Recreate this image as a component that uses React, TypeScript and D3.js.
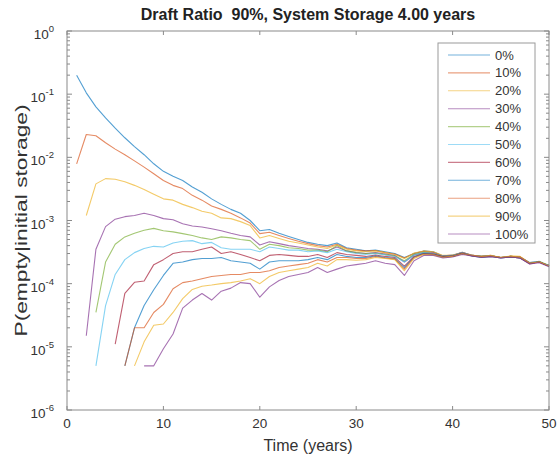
import * as d3 from 'd3';
import { useEffect, useRef } from 'react';

// time axis (years) and legend
const years = d3.range(1, 51);
const labels = ['0%', '10%', '20%', '30%', '40%', '50%', '60%', '70%', '80%', '90%', '100%'];
const xTicks = [0, 10, 20, 30, 40, 50];
const yTicks = [1, 1e-1, 1e-2, 1e-3, 1e-4, 1e-5, 1e-6];
const matlab = ['#0072BD', '#D95319', '#EDB120', '#7E2F8E', '#77AC30', '#4DBEEE', '#A2142F'];

// P(empty | initial storage), one array per initial storage level (null = zero)
const s0 = [0.20, 0.105, 0.063, 0.042, 0.029, 0.0204, 0.0148, 0.011, 0.0079, 0.0060,
  0.0050, 0.0043, 0.0034, 0.0028, 0.0022, 0.0018, 0.0015, 0.0013, 0.0010, 6.9e-4,
  7.2e-4, 6.3e-4, 5.6e-4, 5.0e-4, 4.5e-4, 4.2e-4, 4.0e-4, 4.4e-4, 3.7e-4, 3.5e-4,
  3.3e-4, 3.4e-4, 3.2e-4, 3.0e-4, 2.6e-4, 3.0e-4, 3.3e-4, 3.2e-4, 2.75e-4, 2.8e-4,
  3.15e-4, 2.8e-4, 2.7e-4, 2.75e-4, 2.6e-4, 2.7e-4, 2.65e-4, 2.15e-4, 2.25e-4, 1.9e-4];
const s10 = [0.0079, 0.023, 0.022, 0.017, 0.0135, 0.011, 0.0088, 0.0070, 0.0055, 0.0043,
  0.0036, 0.0032, 0.0025, 0.0021, 0.0017, 0.0015, 0.0013, 0.0011, 9.1e-4, 6.2e-4,
  6.5e-4, 5.8e-4, 5.2e-4, 4.7e-4, 4.3e-4, 4.0e-4, 3.8e-4, 4.2e-4, 3.6e-4, 3.4e-4,
  3.3e-4, 3.35e-4, 3.1e-4, 2.95e-4, 2.55e-4, 3.0e-4, 3.25e-4, 3.15e-4, 2.75e-4, 2.85e-4,
  3.1e-4, 2.85e-4, 2.7e-4, 2.8e-4, 2.6e-4, 2.7e-4, 2.65e-4, 2.15e-4, 2.2e-4, 1.9e-4];
const s20 = [null, 1.2e-3, 3.8e-3, 4.6e-3, 4.5e-3, 4.1e-3, 3.6e-3, 3.1e-3, 2.6e-3, 2.2e-3,
  2.1e-3, 1.8e-3, 1.6e-3, 1.4e-3, 1.3e-3, 1.1e-3, 1.07e-3, 9.6e-4, 8.3e-4, 5.3e-4,
  5.8e-4, 5.2e-4, 4.7e-4, 4.4e-4, 4.1e-4, 3.8e-4, 3.6e-4, 4.1e-4, 3.5e-4, 3.3e-4,
  3.2e-4, 3.3e-4, 3.1e-4, 2.9e-4, 2.5e-4, 3.05e-4, 3.3e-4, 3.2e-4, 2.8e-4, 2.8e-4,
  3.15e-4, 2.8e-4, 2.7e-4, 2.8e-4, 2.6e-4, 2.75e-4, 2.7e-4, 2.1e-4, 2.2e-4, 1.9e-4];
const s30 = [null, 1.5e-5, 3.5e-4, 8.0e-4, 1.05e-3, 1.15e-3, 1.2e-3, 1.3e-3, 1.2e-3, 1.07e-3,
  1.03e-3, 8.9e-4, 8.2e-4, 7.9e-4, 7.4e-4, 6.9e-4, 6.3e-4, 5.8e-4, 5.5e-4, 4.1e-4,
  4.6e-4, 4.3e-4, 4.0e-4, 3.8e-4, 3.6e-4, 3.5e-4, 3.3e-4, 3.8e-4, 3.3e-4, 3.1e-4,
  3.0e-4, 3.1e-4, 2.95e-4, 2.8e-4, 2.2e-4, 2.85e-4, 3.1e-4, 3.05e-4, 2.7e-4, 2.75e-4,
  3.1e-4, 2.8e-4, 2.65e-4, 2.7e-4, 2.55e-4, 2.65e-4, 2.55e-4, 2.05e-4, 2.2e-4, 1.9e-4];
const s40 = [null, null, 3.5e-5, 2.2e-4, 4.2e-4, 5.5e-4, 6.3e-4, 7.0e-4, 7.5e-4, 6.9e-4,
  6.6e-4, 6.2e-4, 5.8e-4, 5.3e-4, 5.0e-4, 5.5e-4, 5.3e-4, 5.0e-4, 4.8e-4, 3.5e-4,
  4.2e-4, 4.0e-4, 3.7e-4, 3.6e-4, 3.4e-4, 3.4e-4, 3.2e-4, 4.0e-4, 3.3e-4, 3.1e-4,
  3.0e-4, 3.05e-4, 2.9e-4, 2.75e-4, 2.3e-4, 2.9e-4, 3.15e-4, 3.0e-4, 2.7e-4, 2.8e-4,
  3.05e-4, 2.8e-4, 2.7e-4, 2.75e-4, 2.6e-4, 2.7e-4, 2.6e-4, 2.1e-4, 2.25e-4, 1.95e-4];
const s50 = [null, null, 5.0e-6, 4.5e-5, 1.4e-4, 2.4e-4, 3.1e-4, 3.6e-4, 3.9e-4, 3.8e-4,
  4.4e-4, 4.7e-4, 4.8e-4, 4.3e-4, 4.5e-4, 3.7e-4, 3.5e-4, 3.5e-4, 3.5e-4, 3.2e-4,
  3.8e-4, 3.6e-4, 3.4e-4, 3.4e-4, 3.2e-4, 3.3e-4, 3.1e-4, 3.5e-4, 3.2e-4, 3.0e-4,
  2.9e-4, 3.0e-4, 2.85e-4, 2.7e-4, 2.2e-4, 2.85e-4, 3.1e-4, 3.0e-4, 2.75e-4, 2.8e-4,
  3.1e-4, 2.8e-4, 2.7e-4, 2.75e-4, 2.6e-4, 2.7e-4, 2.6e-4, 2.15e-4, 2.2e-4, 1.9e-4];
const s60 = [null, null, null, null, 1.1e-5, 7.0e-5, 1.05e-4, 1.1e-4, 2.0e-4, 2.4e-4,
  3.0e-4, 3.2e-4, 3.2e-4, 3.5e-4, 3.8e-4, 3.0e-4, 3.2e-4, 2.9e-4, 2.6e-4, 2.3e-4,
  2.8e-4, 2.9e-4, 2.8e-4, 2.7e-4, 2.7e-4, 2.9e-4, 2.6e-4, 3.1e-4, 2.9e-4, 2.8e-4,
  2.7e-4, 2.85e-4, 2.7e-4, 2.6e-4, 1.9e-4, 2.7e-4, 3.0e-4, 2.95e-4, 2.7e-4, 2.75e-4,
  3.05e-4, 2.75e-4, 2.65e-4, 2.7e-4, 2.6e-4, 2.65e-4, 2.55e-4, 2.1e-4, 2.2e-4, 1.9e-4];
const s70 = [null, null, null, null, null, 5.0e-6, 2.0e-5, 4.5e-5, 8.0e-5, 1.35e-4,
  2.1e-4, 2.2e-4, 2.4e-4, 2.5e-4, 2.5e-4, 2.6e-4, 2.3e-4, 2.2e-4, 2.1e-4, 1.7e-4,
  2.2e-4, 2.3e-4, 2.3e-4, 2.3e-4, 2.4e-4, 2.6e-4, 2.4e-4, 2.9e-4, 2.7e-4, 2.6e-4,
  2.6e-4, 2.75e-4, 2.6e-4, 2.5e-4, 1.8e-4, 2.65e-4, 3.0e-4, 2.9e-4, 2.65e-4, 2.7e-4,
  3.0e-4, 2.75e-4, 2.6e-4, 2.7e-4, 2.55e-4, 2.65e-4, 2.55e-4, 2.1e-4, 2.2e-4, 1.9e-4];
const s80 = [null, null, null, null, null, 5.0e-6, 2.0e-5, 2.0e-5, 3.5e-5, 4.7e-5,
  8.3e-5, 1.04e-4, 1.1e-4, 1.2e-4, 1.3e-4, 1.35e-4, 1.4e-4, 1.4e-4, 1.5e-4, 1.5e-4,
  1.6e-4, 1.8e-4, 1.9e-4, 2.0e-4, 2.1e-4, 2.4e-4, 2.2e-4, 2.6e-4, 2.6e-4, 2.5e-4,
  2.5e-4, 2.7e-4, 2.55e-4, 2.45e-4, 1.7e-4, 2.6e-4, 2.95e-4, 2.9e-4, 2.65e-4, 2.7e-4,
  3.0e-4, 2.8e-4, 2.7e-4, 2.75e-4, 2.6e-4, 2.7e-4, 2.65e-4, 2.1e-4, 2.2e-4, 1.9e-4];
const s90 = [null, null, null, null, null, null, 5.0e-6, 1.2e-5, 2.2e-5, 2.3e-5,
  3.5e-5, 5.8e-5, 8.1e-5, 9.1e-5, 9.5e-5, 1.0e-4, 1.04e-4, 1.1e-4, 1.2e-4, 1.0e-4,
  1.3e-4, 1.5e-4, 1.6e-4, 1.7e-4, 1.8e-4, 2.1e-4, 1.9e-4, 2.4e-4, 2.4e-4, 2.35e-4,
  2.4e-4, 2.6e-4, 2.5e-4, 2.4e-4, 1.6e-4, 2.5e-4, 2.9e-4, 2.85e-4, 2.6e-4, 2.7e-4,
  2.95e-4, 2.8e-4, 2.65e-4, 2.75e-4, 2.6e-4, 2.7e-4, 2.6e-4, 2.1e-4, 2.2e-4, 1.9e-4];
const s100 = [null, null, null, null, null, null, null, 5.0e-6, 5.0e-6, 9.3e-6,
  1.6e-5, 4.1e-5, 5.5e-5, 7.0e-5, 5.5e-5, 7.6e-5, 8.5e-5, 1.04e-4, 1.0e-4, 6.1e-5,
  8.9e-5, 1.12e-4, 1.3e-4, 1.4e-4, 1.5e-4, 1.8e-4, 1.5e-4, 1.7e-4, 1.9e-4, 2.0e-4,
  2.1e-4, 2.3e-4, 2.1e-4, 2.0e-4, 1.35e-4, 2.3e-4, 2.8e-4, 2.8e-4, 2.55e-4, 2.65e-4,
  2.9e-4, 2.75e-4, 2.6e-4, 2.7e-4, 2.55e-4, 2.65e-4, 2.55e-4, 2.05e-4, 2.15e-4, 1.85e-4];

const series = [s0, s10, s20, s30, s40, s50, s60, s70, s80, s90, s100];

export default function App() {
  const svgRef = useRef(null);

  useEffect(() => {
    const svg = d3.select(svgRef.current);
    svg.selectAll('*').remove();

    const left = 67, right = 549, top = 31, bottom = 410;
    const font = 'Arial, "Liberation Sans", Helvetica, sans-serif';
    const axisColor = '#8a8a8a';
    const textColor = '#333';

    const x = d3.scaleLinear().domain([0, 50]).range([left, right]);
    const y = d3.scaleLog().domain([1e-6, 1]).range([bottom, top]);

    svg.append('rect')
      .attr('width', 557).attr('height', 459).attr('fill', '#fff');

    // lines
    const line = d3.line()
      .defined((d) => d[1] != null)
      .x((d) => x(d[0]))
      .y((d) => y(d[1]));

    series.forEach((s, i) => {
      svg.append('path')
        .datum(years.map((yr, j) => [yr, s[j]]))
        .attr('fill', 'none')
        .attr('stroke', matlab[i % matlab.length])
        .attr('stroke-opacity', 0.68)
        .attr('stroke-width', 1.1)
        .attr('stroke-linejoin', 'round')
        .attr('d', line);
    });

    // box
    svg.append('rect')
      .attr('x', left).attr('y', top)
      .attr('width', right - left).attr('height', bottom - top)
      .attr('fill', 'none').attr('stroke', axisColor).attr('stroke-width', 1);

    const g = svg.append('g').attr('stroke', axisColor).attr('stroke-width', 1);

    // x ticks (inward, bottom and top)
    xTicks.forEach((t) => {
      g.append('line').attr('x1', x(t)).attr('x2', x(t)).attr('y1', bottom).attr('y2', bottom - 4);
      g.append('line').attr('x1', x(t)).attr('x2', x(t)).attr('y1', top).attr('y2', top + 4);
      svg.append('text')
        .attr('x', x(t)).attr('y', bottom + 18)
        .attr('text-anchor', 'middle')
        .attr('font-family', font).attr('font-size', 13.5)
        .attr('fill', textColor)
        .text(t);
    });

    // y major + minor ticks
    yTicks.forEach((t, k) => {
      g.append('line').attr('x1', left).attr('x2', left + 5).attr('y1', y(t)).attr('y2', y(t));
      g.append('line').attr('x1', right).attr('x2', right - 5).attr('y1', y(t)).attr('y2', y(t));
      if (t < 1) {
        for (let m = 2; m <= 9; m++) {
          const v = t * m;
          g.append('line').attr('x1', left).attr('x2', left + 3).attr('y1', y(v)).attr('y2', y(v));
          g.append('line').attr('x1', right).attr('x2', right - 3).attr('y1', y(v)).attr('y2', y(v));
        }
      }
      const lab = svg.append('text')
        .attr('x', left - 13).attr('y', y(t) + 8)
        .attr('text-anchor', 'end')
        .attr('font-family', font).attr('font-size', 13.5)
        .attr('fill', textColor);
      lab.append('tspan').text('10');
      lab.append('tspan')
        .attr('dy', -7).attr('font-size', 9.5)
        .text(k === 0 ? '0' : `-${k}`);
    });

    // title and axis labels
    svg.append('text')
      .attr('x', (left + right) / 2).attr('y', 20)
      .attr('text-anchor', 'middle')
      .attr('font-family', font).attr('font-size', 16).attr('font-weight', 'bold')
      .attr('fill', '#222')
      .style('white-space', 'pre')
      .text('Draft Ratio  90%, System Storage 4.00 years');

    svg.append('text')
      .attr('x', (left + right) / 2).attr('y', 451)
      .attr('text-anchor', 'middle')
      .attr('font-family', font).attr('font-size', 16)
      .attr('fill', textColor)
      .text('Time (years)');

    svg.append('text')
      .attr('transform', `translate(27, ${(top + bottom) / 2}) rotate(-90)`)
      .attr('text-anchor', 'middle')
      .attr('font-family', font).attr('font-size', 16)
      .attr('textLength', 232).attr('lengthAdjust', 'spacingAndGlyphs')
      .attr('fill', textColor)
      .text('P(empty|initial storage)');

    // legend
    const lx = 438, ly = 43, lw = 97, lh = 200, step = 17.9;
    svg.append('rect')
      .attr('x', lx).attr('y', ly).attr('width', lw).attr('height', lh)
      .attr('fill', '#fff').attr('stroke', '#9a9a9a').attr('stroke-width', 1);
    labels.forEach((lab, i) => {
      const yy = ly + 12 + i * step;
      svg.append('line')
        .attr('x1', lx + 10).attr('x2', lx + 52)
        .attr('y1', yy).attr('y2', yy)
        .attr('stroke', matlab[i % matlab.length])
        .attr('stroke-opacity', 0.55)
        .attr('stroke-width', 1.1);
      svg.append('text')
        .attr('x', lx + 57).attr('y', yy + 4.5)
        .attr('font-family', font).attr('font-size', 13)
        .attr('fill', textColor)
        .text(lab);
    });
  }, []);

  return (
    <div style={{ position: 'fixed', left: 0, top: 0, width: 557, height: 459, background: '#fff' }}>
      <svg ref={svgRef} width={557} height={459}></svg>
    </div>
  );
}
